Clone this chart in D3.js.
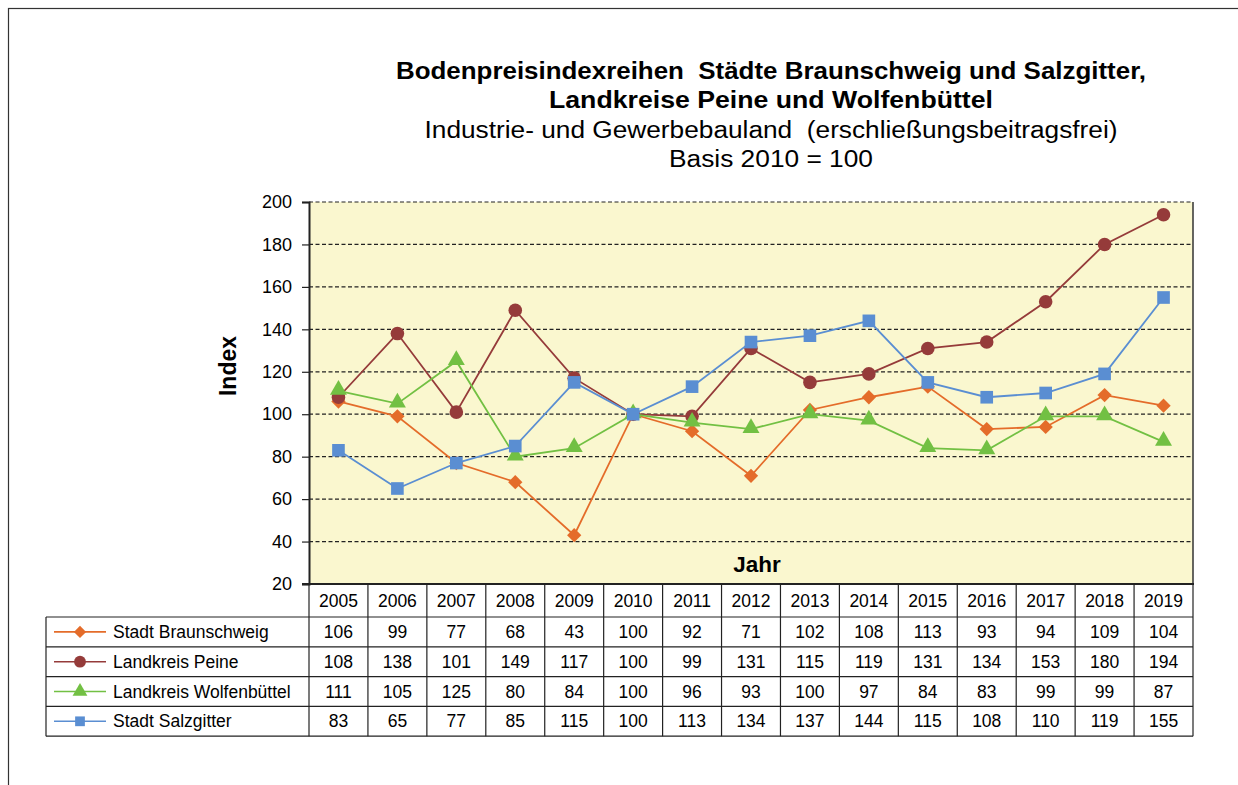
<!DOCTYPE html>
<html>
<head>
<meta charset="utf-8">
<script src="https://cdn.jsdelivr.net/npm/d3@7"></script>
<style>
  body { margin: 0; background: #fff; }
  svg { display: block; font-family: "Liberation Sans", Arial, sans-serif; }
</style>
</head>
<body>
<svg id="chart" width="1238" height="785"></svg>
<script>
var years = ["2005", "2006", "2007", "2008", "2009", "2010", "2011", "2012", "2013", "2014", "2015", "2016", "2017", "2018", "2019"];
var braunschweig = [106, 99, 77, 68, 43, 100, 92, 71, 102, 108, 113, 93, 94, 109, 104];
var peine = [108, 138, 101, 149, 117, 100, 99, 131, 115, 119, 131, 134, 153, 180, 194];
var wolfenbuettel = [111, 105, 125, 80, 84, 100, 96, 93, 100, 97, 84, 83, 99, 99, 87];
var salzgitter = [83, 65, 77, 85, 115, 100, 113, 134, 137, 144, 115, 108, 110, 119, 155];
var seriesNames = ["Stadt Braunschweig", "Landkreis Peine", "Landkreis Wolfenbüttel", "Stadt Salzgitter"];
var yTicks = [20, 40, 60, 80, 100, 120, 140, 160, 180, 200];

var series = [
  { name: seriesNames[0], values: braunschweig, color: "#E46C2A", symbol: "diamond" },
  { name: seriesNames[1], values: peine, color: "#953B3A", symbol: "circle" },
  { name: seriesNames[2], values: wolfenbuettel, color: "#72C043", symbol: "triangle" },
  { name: seriesNames[3], values: salzgitter, color: "#5A8ED2", symbol: "square" }
];

var svg = d3.select("#chart");

// outer frame (runs off the right / bottom edge)
svg.append("rect")
  .attr("x", 8.5).attr("y", 8.5)
  .attr("width", 1250).attr("height", 800)
  .attr("fill", "none").attr("stroke", "#333").attr("stroke-width", 1.2);

var plot = { left: 309, right: 1193, top: 202, bottom: 584 };

var x = d3.scaleBand().domain(years).range([plot.left, plot.right]);
var y = d3.scaleLinear().domain([20, 200]).range([plot.bottom, plot.top]);

// titles (stretched a little, like the original)
var titles = [
  { t: "Bodenpreisindexreihen  Städte Braunschweig und Salzgitter,", y: 79, w: "bold", len: 750 },
  { t: "Landkreise Peine und Wolfenbüttel", y: 108, w: "bold", len: 444 },
  { t: "Industrie- und Gewerbebauland  (erschließungsbeitragsfrei)", y: 138, w: "normal", len: 693 },
  { t: "Basis 2010 = 100", y: 167, w: "normal", len: 204 }
];
svg.selectAll("text.title").data(titles).enter().append("text")
  .attr("class", "title")
  .attr("x", 771).attr("y", function(d) { return d.y; })
  .attr("text-anchor", "middle")
  .attr("font-size", 23.5)
  .attr("font-weight", function(d) { return d.w; })
  .attr("xml:space", "preserve")
  .style("white-space", "pre")
  .attr("textLength", function(d) { return d.len; })
  .attr("lengthAdjust", "spacingAndGlyphs")
  .text(function(d) { return d.t; });

// plot background
svg.append("rect")
  .attr("x", plot.left).attr("y", plot.top)
  .attr("width", plot.right - plot.left).attr("height", plot.bottom - plot.top)
  .attr("fill", "#FAF7CF");

// gridlines
svg.append("g").selectAll("line").data(yTicks.filter(function(v) { return v > 20; })).enter().append("line")
  .attr("x1", plot.left).attr("x2", plot.right)
  .attr("y1", function(d) { return y(d); }).attr("y2", function(d) { return y(d); })
  .attr("stroke", "#222").attr("stroke-width", 1.2).attr("stroke-dasharray", "4,2.5");

// y axis
var yAxis = svg.append("g")
  .attr("transform", "translate(" + plot.left + ",0)")
  .call(d3.axisLeft(y).tickValues(yTicks).tickSize(7).tickPadding(10));
yAxis.select(".domain").attr("stroke", "#222").attr("stroke-width", 2);
yAxis.selectAll(".tick line").attr("stroke", "#222").attr("stroke-width", 1.2);
yAxis.selectAll(".tick text").attr("font-size", 18).attr("fill", "#000")
  .attr("font-family", "Liberation Sans, Arial, sans-serif");

// right border of plot
svg.append("line")
  .attr("x1", plot.right).attr("x2", plot.right)
  .attr("y1", plot.top).attr("y2", plot.bottom)
  .attr("stroke", "#333").attr("stroke-width", 1.5);

svg.append("text")
  .attr("transform", "translate(236,366) rotate(-90)")
  .attr("text-anchor", "middle")
  .attr("font-size", 23).attr("font-weight", "bold")
  .text("Index");

svg.append("text")
  .attr("x", 757).attr("y", 572)
  .attr("text-anchor", "middle")
  .attr("font-size", 22.5).attr("font-weight", "bold")
  .text("Jahr");

// symbols
function symbolFor(name) {
  if (name === "diamond") return d3.symbol().type(d3.symbolDiamond2).size(130);
  if (name === "circle") return d3.symbol().type(d3.symbolCircle).size(145);
  if (name === "triangle") return d3.symbol().type(d3.symbolTriangle).size(125);
  return d3.symbol().type(d3.symbolSquare).size(160);
}
function cx(i) { return x(years[i]) + x.bandwidth() / 2; }

var line = d3.line()
  .x(function(d, i) { return cx(i); })
  .y(function(d) { return y(d); });

series.forEach(function(s) {
  var g = svg.append("g");
  g.append("path")
    .datum(s.values)
    .attr("d", line)
    .attr("fill", "none")
    .attr("stroke", s.color)
    .attr("stroke-width", 1.8);
  g.selectAll("path.m").data(s.values).enter().append("path")
    .attr("class", "m")
    .attr("d", symbolFor(s.symbol))
    .attr("transform", function(d, i) {
      var dy = s.symbol === "triangle" ? -1 : 0;
      return "translate(" + cx(i) + "," + (y(d) + dy) + ")";
    })
    .attr("fill", s.color);
});

// bottom axis line
svg.append("line")
  .attr("x1", plot.left - 7).attr("x2", plot.right + 1)
  .attr("y1", plot.bottom).attr("y2", plot.bottom)
  .attr("stroke", "#222").attr("stroke-width", 2);

// data table
var tbl = { left: 46, header: 33, rowH: 29.8 };
var tableTop = plot.bottom;
var rowsTop = tableTop + tbl.header;
var tableBottom = rowsTop + tbl.rowH * series.length;
var tg = svg.append("g").attr("stroke", "#222").attr("stroke-width", 1.2);

// vertical lines for year columns
years.forEach(function(yr) {
  tg.append("line")
    .attr("x1", x(yr)).attr("x2", x(yr))
    .attr("y1", tableTop).attr("y2", tableBottom);
});
tg.append("line").attr("x1", plot.right).attr("x2", plot.right).attr("y1", tableTop).attr("y2", tableBottom);
tg.append("line").attr("x1", tbl.left).attr("x2", tbl.left).attr("y1", rowsTop).attr("y2", tableBottom);
for (var r = 0; r <= series.length; r++) {
  tg.append("line")
    .attr("x1", tbl.left).attr("x2", plot.right)
    .attr("y1", rowsTop + r * tbl.rowH).attr("y2", rowsTop + r * tbl.rowH);
}

svg.append("g").selectAll("text").data(years).enter().append("text")
  .attr("x", function(d) { return x(d) + x.bandwidth() / 2; })
  .attr("y", tableTop + 23)
  .attr("text-anchor", "middle")
  .attr("font-size", 17.5)
  .text(function(d) { return d; });

series.forEach(function(s, r) {
  var ry = rowsTop + r * tbl.rowH;
  var mid = ry + tbl.rowH / 2;
  svg.append("line")
    .attr("x1", 54).attr("x2", 106)
    .attr("y1", mid).attr("y2", mid)
    .attr("stroke", s.color).attr("stroke-width", 1.6);
  svg.append("path")
    .attr("d", symbolFor(s.symbol).size(s.symbol === "circle" ? 110 : 95)())
    .attr("transform", "translate(80," + mid + ")")
    .attr("fill", s.color);
  svg.append("text")
    .attr("x", 113).attr("y", mid + 6)
    .attr("font-size", 17.5)
    .text(s.name);
  svg.append("g").selectAll("text").data(s.values).enter().append("text")
    .attr("x", function(d, i) { return cx(i); })
    .attr("y", mid + 6)
    .attr("text-anchor", "middle")
    .attr("font-size", 17.5)
    .text(function(d) { return d; });
});
</script>
</body>
</html>
